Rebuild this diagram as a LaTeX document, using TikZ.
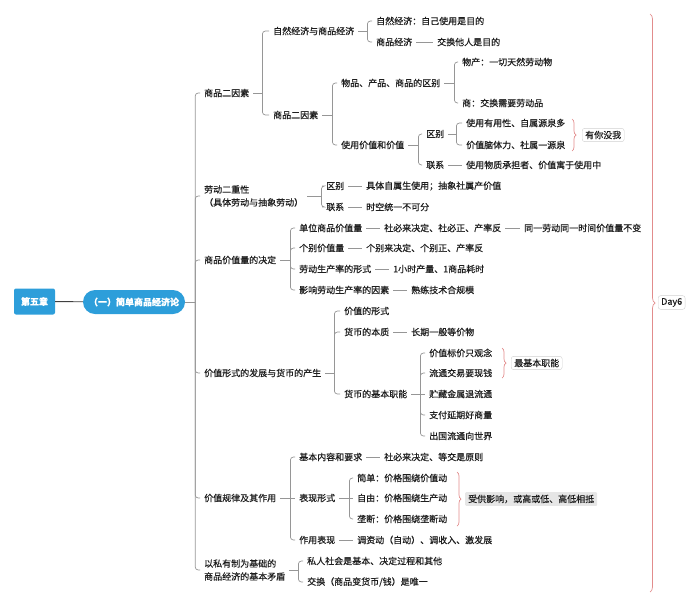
\documentclass[tikz,border=0pt]{standalone}
\usepackage{fontspec}
\setmainfont{Noto Sans CJK SC}[FakeBold=0.5]
\usepackage{tikz}
\usetikzlibrary{positioning,calc,decorations.pathreplacing}
\definecolor{chapblue}{RGB}{45,158,218}
\definecolor{linegray}{RGB}{150,150,150}
\definecolor{bracered}{RGB}{226,140,140}
\definecolor{textgray}{RGB}{30,30,30}
\definecolor{notegray}{RGB}{230,230,230}

\begin{document}
\begin{tikzpicture}[x=1pt,y=-1pt,
  topic/.style={anchor=west, inner xsep=4pt, inner ysep=1pt, align=left,
    font=\fontsize{9}{13}\selectfont, text=textgray},
  conn/.style={draw=linegray, line width=0.7pt, rounded corners=3pt},
  redbrace/.style={draw=bracered, line width=0.7pt, decorate,
    decoration={brace, amplitude=4pt}},
  notebox/.style={anchor=west, draw=black!18, fill=white, rounded corners=2.5pt,
    inner xsep=3pt, inner ysep=2.5pt, font=\fontsize{9}{11}\selectfont, text=textgray}]
\useasboundingbox (0,0) rectangle (700,605);

% 第五章
\node[fill=chapblue, text=white, rounded corners=2pt, minimum width=41pt, minimum height=26pt,
  font=\fontsize{9}{11}\selectfont\bfseries] (ch5) at (34.5,301.5) {第五章};
\node[fill=chapblue, text=white, rounded corners=12pt, minimum width=102pt, minimum height=24pt,
  font=\fontsize{9}{11}\selectfont\bfseries] (sec1) at (134,302) {（一）简单商品经济论};
\draw[draw=black!75, line width=0.9pt] (ch5) -- (sec1);
\draw[conn] (sec1.east) -- ++(10,0) coordinate (j0);

% 一级
\node[topic] (f1) at (200,93) {商品二因素};
\node[topic] (f2) at (200,196) {劳动二重性\\（具体劳动与抽象劳动）};
\node[topic] (f3) at (200,260) {商品价值量的决定};
\node[topic] (f4) at (200,373) {价值形式的发展与货币的产生};
\node[topic] (f5) at (200,498) {价值规律及其作用};
\node[topic] (f6) at (200,570) {以私有制为基础的\\商品经济的基本矛盾};
\draw[conn] (j0) |- (f1.west);
\draw[conn] (j0) |- (f2.west);
\draw[conn] (j0) |- (f3.west);
\draw[conn] (j0) |- (f4.west);
\draw[conn] (j0) |- (f5.west);
\draw[conn] (j0) |- (f6.west);

% 商品二因素
\node[topic] (g1) at (269,31) {自然经济与商品经济};
\node[topic] (g2) at (269,115) {商品二因素};
\draw[conn] (f1.east) -- ++(9,0) coordinate (jf1);
\draw[conn] (jf1) |- (g1.west);
\draw[conn] (jf1) |- (g2.west);

\node[topic] (h1) at (372,21) {自然经济：自己使用是目的};
\node[topic] (h2) at (372,42) {商品经济};
\node[topic] (h2a) at (433,42) {交换他人是目的};
\draw[conn] (g1.east) -- ++(9,0) coordinate (jg1);
\draw[conn] (jg1) |- (h1.west);
\draw[conn] (jg1) |- (h2.west);
\draw[conn] (h2) -- (h2a);

\node[topic] (i1) at (337,83) {物品、产品、商品的区别};
\node[topic] (i2) at (337,145) {使用价值和价值};
\draw[conn] (g2.east) -- ++(10,0) coordinate (jg2);
\draw[conn] (jg2) |- (i1.west);
\draw[conn] (jg2) |- (i2.west);

\node[topic] (j1) at (458,62) {物产：一切天然劳动物};
\node[topic] (j2) at (458,103) {商：交换需要劳动品};
\draw[conn] (i1.east) -- ++(10,0) coordinate (ji1);
\draw[conn] (ji1) |- (j1.west);
\draw[conn] (ji1) |- (j2.west);

\node[topic] (k1) at (422,134) {区别};
\node[topic] (k2) at (422,165) {联系};
\node[topic] (k2a) at (462,165) {使用物质承担者、价值寓于使用中};
\draw[conn] (i2.east) -- ++(10,0) coordinate (ji2);
\draw[conn] (ji2) |- (k1.west);
\draw[conn] (ji2) |- (k2.west);
\draw[conn] (k2) -- (k2a);

\node[topic] (l1) at (462,123) {使用有用性、自属源泉多};
\node[topic] (l2) at (462,145) {价值脑体力、社属一源泉};
\draw[conn] (k1.east) -- ++(8,0) coordinate (jk1);
\draw[conn] (jk1) |- (l1.west);
\draw[conn] (jk1) |- (l2.west);
\draw[redbrace] (572,119) -- (572,151);
\node[notebox] (n1) at (582,135) {有你没我};

% 劳动二重性
\node[topic] (m1) at (322,186) {区别};
\node[topic] (m1a) at (362,186) {具体自属生使用；抽象社属产价值};
\node[topic] (m2) at (322,207) {联系};
\node[topic] (m2a) at (362,207) {时空统一不可分};
\draw[conn] (f2.east) -- ++(14,0) coordinate (jf2);
\draw[conn] (jf2) |- (m1.west);
\draw[conn] (jf2) |- (m2.west);
\draw[conn] (m1) -- (m1a);
\draw[conn] (m2) -- (m2a);

% 商品价值量的决定
\node[topic] (p1) at (295,228) {单位商品价值量};
\node[topic] (p1a) at (380,228) {社必来决定、社必正、产率反};
\node[topic] (p1b) at (520,228) {同一劳动同一时间价值量不变};
\node[topic] (p2) at (295,248) {个别价值量};
\node[topic] (p2a) at (362,248) {个别来决定、个别正、产率反};
\node[topic] (p3) at (295,269) {劳动生产率的形式};
\node[topic] (p3a) at (389,269) {1小时产量、1商品耗时};
\node[topic] (p4) at (295,290) {影响劳动生产率的因素};
\node[topic] (p4a) at (407,290) {熟练技术合规模};
\draw[conn] (f3.east) -- ++(10,0) coordinate (jf3);
\draw[conn] (jf3) |- (p1.west);
\draw[conn] (jf3) |- (p2.west);
\draw[conn] (jf3) |- (p3.west);
\draw[conn] (jf3) |- (p4.west);
\draw[conn] (p1) -- (p1a);
\draw[conn] (p1a) -- (p1b);
\draw[conn] (p2) -- (p2a);
\draw[conn] (p3) -- (p3a);
\draw[conn] (p4) -- (p4a);

% 价值形式的发展与货币的产生
\node[topic] (q1) at (340,311) {价值的形式};
\node[topic] (q2) at (340,332) {货币的本质};
\node[topic] (q2a) at (407,332) {长期一般等价物};
\node[topic] (q3) at (340,394) {货币的基本职能};
\draw[conn] (f4.east) -- ++(9,0) coordinate (jf4);
\draw[conn] (jf4) |- (q1.west);
\draw[conn] (jf4) |- (q2.west);
\draw[conn] (jf4) |- (q3.west);
\draw[conn] (q2) -- (q2a);

\node[topic] (r1) at (425,353) {价值标价只观念};
\node[topic] (r2) at (425,373) {流通交易要现钱};
\node[topic] (r3) at (425,394) {贮藏金属退流通};
\node[topic] (r4) at (425,415) {支付延期好商量};
\node[topic] (r5) at (425,436) {出国流通向世界};
\draw[conn] (q3.east) -- ++(9,0) coordinate (jq3);
\draw[conn] (jq3) |- (r1.west);
\draw[conn] (jq3) |- (r2.west);
\draw[conn] (q3) -- (r3);
\draw[conn] (jq3) |- (r4.west);
\draw[conn] (jq3) |- (r5.west);
\draw[redbrace] (502,348) -- (502,378);
\node[notebox] (n2) at (511,363) {最基本职能};

% 价值规律及其作用
\node[topic] (s1) at (295,457) {基本内容和要求};
\node[topic] (s1a) at (380,457) {社必来决定、等交是原则};
\node[topic] (s2) at (295,498) {表现形式};
\node[topic] (s3) at (295,540) {作用表现};
\node[topic] (s3a) at (353,540) {调资动（自动）、调收入、激发展};
\draw[conn] (f5.east) -- ++(10,0) coordinate (jf5);
\draw[conn] (jf5) |- (s1.west);
\draw[conn] (f5) -- (s2);
\draw[conn] (jf5) |- (s3.west);
\draw[conn] (s1) -- (s1a);
\draw[conn] (s3) -- (s3a);

\node[topic] (t1) at (353,478) {简单：价格围绕价值动};
\node[topic] (t2) at (353,498) {自由：价格围绕生产动};
\node[topic] (t3) at (353,519) {垄断：价格围绕垄断动};
\draw[conn] (s2.east) -- ++(10,0) coordinate (js2);
\draw[conn] (js2) |- (t1.west);
\draw[conn] (s2) -- (t2);
\draw[conn] (js2) |- (t3.west);
\draw[redbrace] (457,472) -- (457,526);
\node[notebox, draw=none, fill=notegray, rounded corners=1pt] (n3) at (465,499) {受供影响，或高或低、高低相抵};

% 以私有制为基础的商品经济的基本矛盾
\node[topic] (u1) at (303,561) {私人社会是基本、决定过程和其他};
\node[topic] (u2) at (303,582) {交换（商品变货币/钱）是唯一};
\draw[conn] (f6.east) -- ++(9,0) coordinate (jf6);
\draw[conn] (jf6) |- (u1.west);
\draw[conn] (jf6) |- (u2.west);

% Day6
\draw[redbrace, decoration={brace, amplitude=5pt}] (650,14) -- (650,592);
\node[notebox] (day) at (658,302.5) {Day6};
\end{tikzpicture}
\end{document}
